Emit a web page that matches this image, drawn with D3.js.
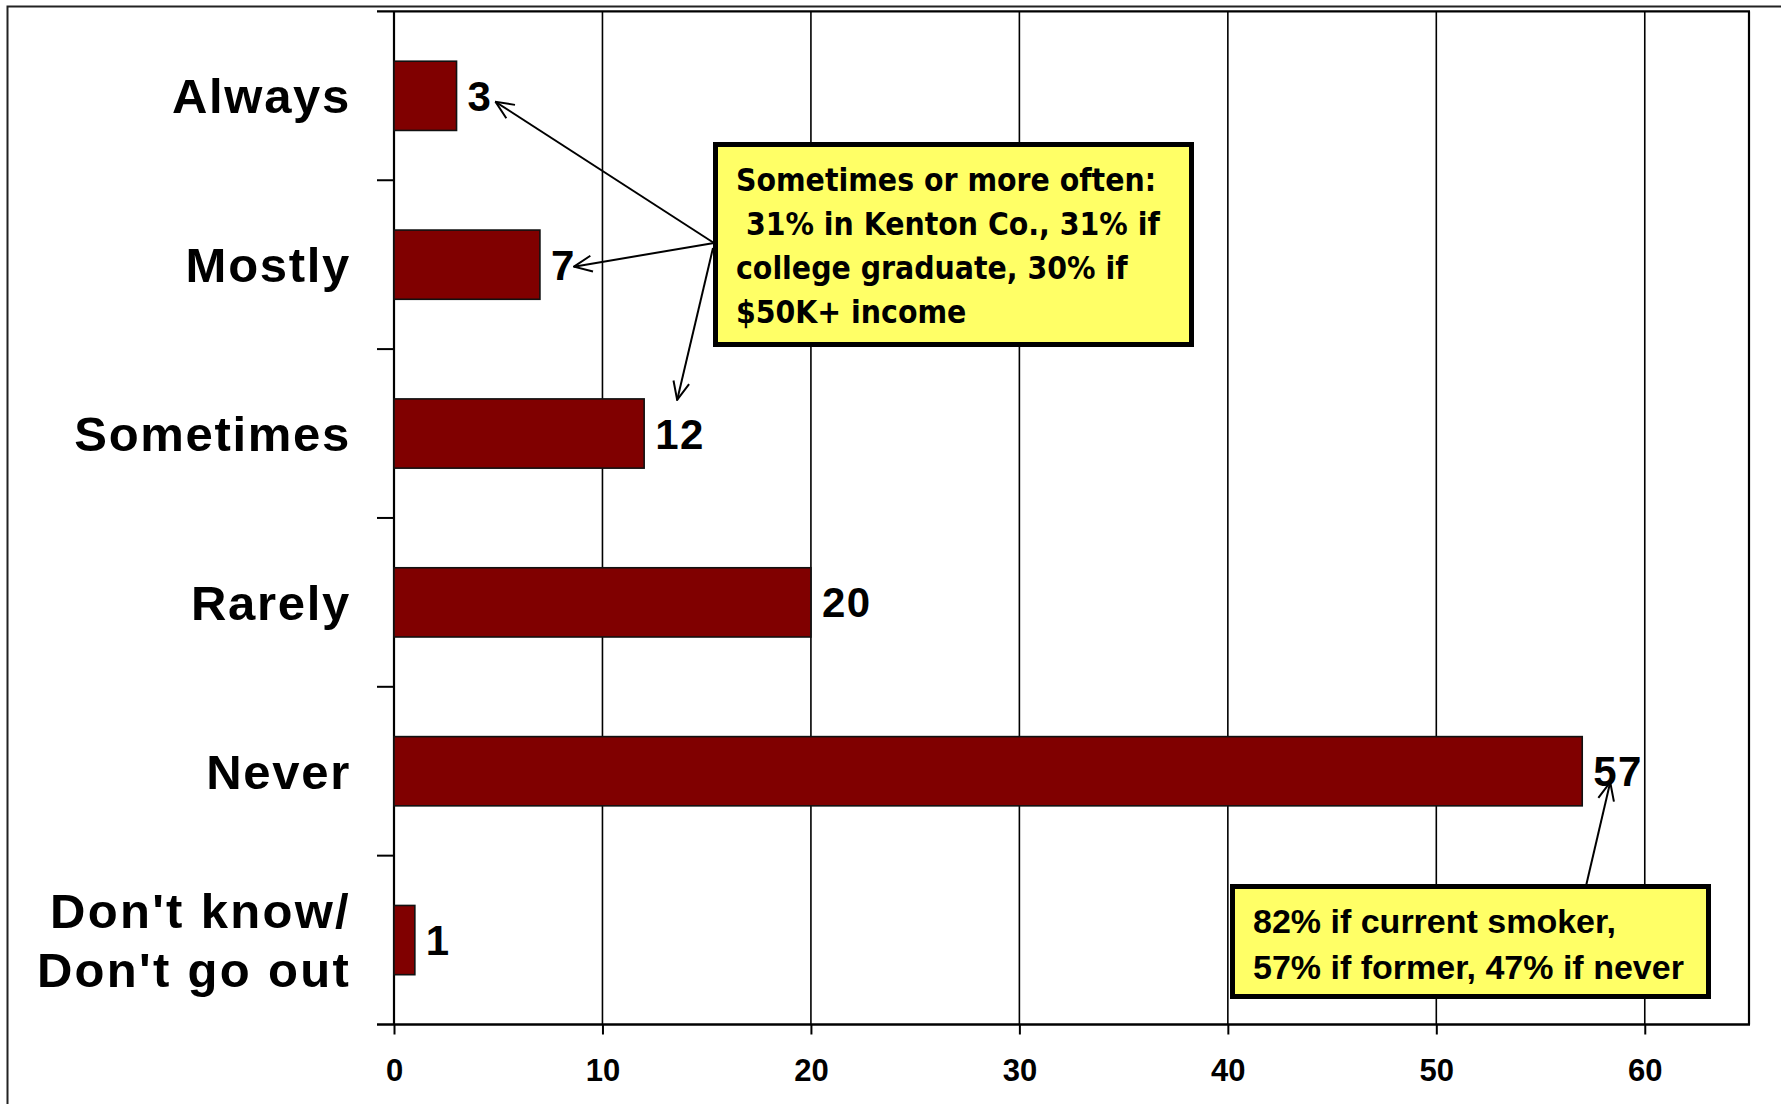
<!DOCTYPE html>
<html>
<head>
<meta charset="utf-8">
<script src="https://cdn.jsdelivr.net/npm/d3@7"></script>
<style>
  html, body { margin: 0; padding: 0; background: #fff; }
  svg { display: block; }
  .note text { white-space: pre; }
</style>
</head>
<body>
<svg id="chart" width="1781" height="1104"></svg>
<script>
// Response categories (multi-line labels split into lines)
const categoryLines = [
  ["Always"],
  ["Mostly"],
  ["Sometimes"],
  ["Rarely"],
  ["Never"],
  ["Don't know/", "Don't go out"]
];
const categories = categoryLines.map(l => l.join(" "));
// Percent of respondents
const values = [3, 7, 12, 20, 57, 1];
const xTicks = [0, 10, 20, 30, 40, 50, 60];

// Callout texts
const note1Lines = [
  "Sometimes or more often:",
  " 31% in Kenton Co., 31% if",
  "college graduate, 30% if",
  "$50K+ income"
];
const note2Lines = [
  "82% if current smoker,",
  "57% if former, 47% if never"
];
const note2Target = "Never";

(function draw() {
  const svg = d3.select("#chart");
  const W = 1781, H = 1104;
  const plotLeft = 394, plotRight = 1749, plotTop = 11.4, plotBottom = 1024.5;

  const x = d3.scaleLinear().domain([0, 65]).range([plotLeft, plotRight]);
  const y = d3.scaleBand().domain(categories).range([plotTop, plotBottom])
    .paddingInner(0.59).paddingOuter(0.295);
  const step = y.step();
  const center = c => y(c) + y.bandwidth() / 2;

  // outer frame (continues past the visible page edge)
  svg.append("rect")
    .attr("x", 7.5).attr("y", 6.5)
    .attr("width", W + 20).attr("height", H + 20)
    .attr("fill", "none").attr("stroke", "#222").attr("stroke-width", 2);

  // vertical gridlines
  svg.append("g").selectAll("line")
    .data(xTicks.filter(d => d > 0))
    .join("line")
    .attr("x1", d => x(d)).attr("x2", d => x(d))
    .attr("y1", plotTop).attr("y2", plotBottom)
    .attr("stroke", "#000").attr("stroke-width", 1.6);

  // plot frame: top and right
  svg.append("line").attr("x1", plotLeft - 17).attr("x2", plotRight + 1)
    .attr("y1", plotTop).attr("y2", plotTop).attr("stroke", "#000").attr("stroke-width", 2.2);
  svg.append("line").attr("x1", plotRight).attr("x2", plotRight)
    .attr("y1", plotTop).attr("y2", plotBottom).attr("stroke", "#000").attr("stroke-width", 2.2);

  // x axis
  const xAxis = svg.append("g")
    .attr("transform", `translate(0,${plotBottom})`)
    .call(d3.axisBottom(x).tickValues(xTicks).tickSize(10).tickSizeOuter(0).tickPadding(24));
  xAxis.select(".domain").remove();
  xAxis.selectAll(".tick line").attr("stroke", "#000").attr("stroke-width", 2);
  xAxis.selectAll(".tick text")
    .attr("font-family", "'Liberation Sans', Arial, sans-serif")
    .attr("font-weight", "bold").attr("font-size", 31).attr("fill", "#000")
    .attr("dy", "0.71em");
  svg.append("line").attr("x1", plotLeft - 17).attr("x2", plotRight + 1)
    .attr("y1", plotBottom).attr("y2", plotBottom).attr("stroke", "#000").attr("stroke-width", 2.4);

  // y axis line and category boundary ticks
  svg.append("line").attr("x1", plotLeft).attr("x2", plotLeft)
    .attr("y1", plotTop).attr("y2", plotBottom).attr("stroke", "#000").attr("stroke-width", 2.2);
  const boundaries = categories.slice(1).map(c => y(c) - step * y.paddingInner() / 2);
  svg.append("g").selectAll("line").data(boundaries).join("line")
    .attr("x1", plotLeft - 17).attr("x2", plotLeft)
    .attr("y1", d => d).attr("y2", d => d)
    .attr("stroke", "#000").attr("stroke-width", 2);

  // category labels
  const catG = svg.append("g")
    .attr("font-family", "'Liberation Sans', Arial, sans-serif")
    .attr("font-weight", "bold").attr("font-size", 49)
    .attr("letter-spacing", 1.7).attr("fill", "#000")
    .attr("text-anchor", "end");
  categoryLines.forEach((lines, i) => {
    const c = categories[i];
    const lh = 59;
    lines.forEach((t, j) => {
      catG.append("text")
        .attr("x", plotLeft - 43)
        .attr("y", center(c) + (j - (lines.length - 1) / 2) * lh)
        .attr("dy", "0.36em")
        .attr("letter-spacing", lines.length > 1 ? 2.3 : null)
        .text(t);
    });
  });

  // bars
  svg.append("g").selectAll("rect")
    .data(values)
    .join("rect")
    .attr("x", x(0))
    .attr("y", (d, i) => y(categories[i]))
    .attr("width", d => x(d) - x(0))
    .attr("height", y.bandwidth())
    .attr("fill", "#800000")
    .attr("stroke", "#111").attr("stroke-width", 1.6);

  // value labels
  svg.append("g").selectAll("text")
    .data(values)
    .join("text")
    .attr("x", d => x(d) + 11)
    .attr("y", (d, i) => center(categories[i]))
    .attr("dy", "0.36em")
    .attr("font-family", "'Liberation Sans', Arial, sans-serif")
    .attr("font-weight", "bold").attr("font-size", 42)
    .attr("letter-spacing", 1.5).attr("fill", "#000")
    .text(d => d);

  // arrowhead marker (open V)
  svg.append("defs").append("marker")
    .attr("id", "openArrow")
    .attr("viewBox", "0 0 20 20")
    .attr("refX", 19).attr("refY", 10)
    .attr("markerWidth", 20).attr("markerHeight", 20)
    .attr("markerUnits", "userSpaceOnUse")
    .attr("orient", "auto")
    .append("path")
    .attr("d", "M1,2 L19,10 L1,18")
    .attr("fill", "none").attr("stroke", "#000").attr("stroke-width", 2);

  function arrow(x1, y1, x2, y2) {
    svg.append("line")
      .attr("x1", x1).attr("y1", y1).attr("x2", x2).attr("y2", y2)
      .attr("stroke", "#000").attr("stroke-width", 2)
      .attr("marker-end", "url(#openArrow)");
  }

  const vi = c => values[categories.indexOf(c)];

  // callout 1 arrows
  arrow(714, 243, x(vi("Always")) + 39, center("Always") + 6);
  arrow(714, 243, x(vi("Mostly")) + 34, center("Mostly") + 2);
  arrow(713, 248, x(vi("Sometimes")) + 33, y("Sometimes") + 1);
  // callout 2 arrow
  arrow(1586, 886, x(vi(note2Target)) + 28, center(note2Target) + 11);

  function note(bx, by, bw, bh, lines, tx, ty0, lh, font, size) {
    const g = svg.append("g").attr("class", "note");
    g.append("rect")
      .attr("x", bx).attr("y", by).attr("width", bw).attr("height", bh)
      .attr("fill", "#FFFF66").attr("stroke", "#000").attr("stroke-width", 5);
    g.selectAll("text").data(lines).join("text")
      .attr("x", tx).attr("y", (d, i) => ty0 + i * lh)
      .attr("font-family", font).attr("font-weight", "bold")
      .attr("font-size", size).attr("fill", "#000")
      .text(d => d);
  }

  note(715.5, 144.5, 476, 200, note1Lines, 736, 191, 44,
    "'DejaVu Sans Condensed', 'DejaVu Sans', Verdana, sans-serif", 31.6);
  note(1232.5, 886.5, 476, 110, note2Lines, 1253, 933, 45.5,
    "'Liberation Sans', Arial, sans-serif", 34);
})();
</script>
</body>
</html>
